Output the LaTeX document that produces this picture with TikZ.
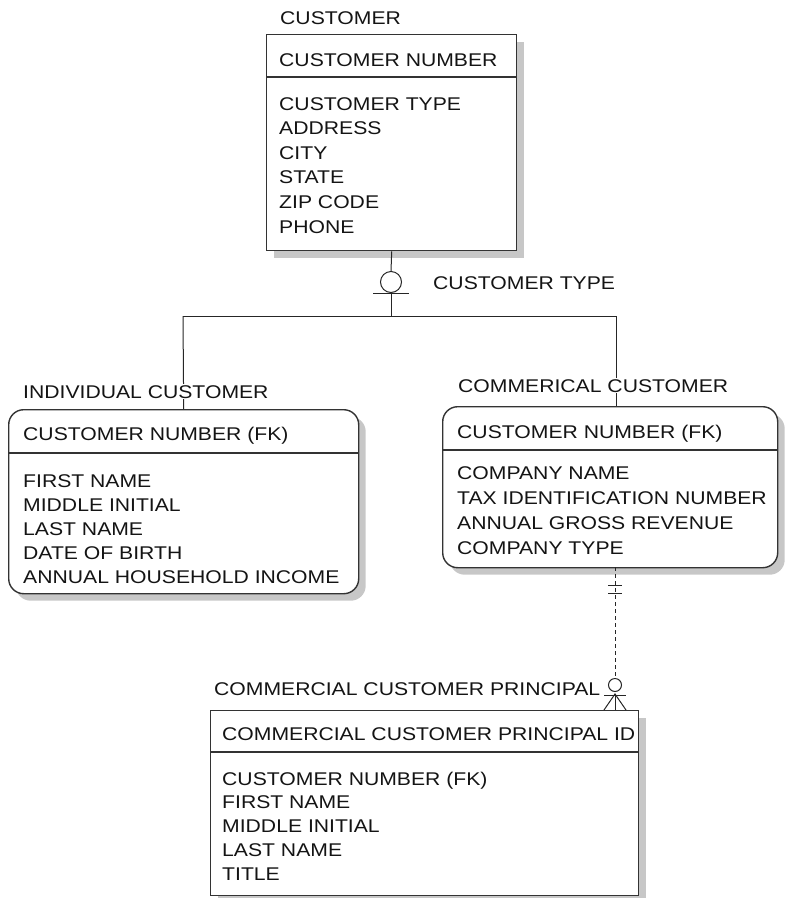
\documentclass[tikz,border=0pt]{standalone}
\usepackage{fontspec}
\setmainfont{Liberation Sans}[FakeStretch=1.15]
\usetikzlibrary{shadows}

\begin{document}
\begin{tikzpicture}[x=1pt, y=-1pt,
    every node/.style={font=\fontsize{18.4}{21}\selectfont, text=black!92, inner sep=0pt},
    entity/.style={draw=black!80, line width=1.4pt, fill=white, anchor=north west,
        drop shadow={shadow xshift=7pt, shadow yshift=-7pt, fill=black!22, opacity=1}},
    divider/.style={draw=black!80, line width=1.1pt},
    attr/.style={anchor=base west},
    entname/.style={anchor=base west, fill=white, inner sep=1pt},
    conn/.style={draw=black!85, line width=1pt},
    dashedconn/.style={conn, dash pattern=on 4pt off 3pt}]

    % Frame
    \useasboundingbox (0,0) rectangle (786,898);

    % Entity boxes
    \node[entity, minimum width=250, minimum height=216] (cust) at (266,34) {};
    \node[entity, rounded corners=15pt, minimum width=350, minimum height=184] (indiv) at (8,409) {};
    \node[entity, rounded corners=15pt, minimum width=335, minimum height=161] (comm) at (442,406) {};
    \node[entity, minimum width=428, minimum height=185] (princ) at (210,710) {};

    % Key dividers
    \draw[divider] (cust.west |- 0,77) -- (cust.east |- 0,77);
    \draw[divider] (indiv.west |- 0,453) -- (indiv.east |- 0,453);
    \draw[divider] (comm.west |- 0,450) -- (comm.east |- 0,450);
    \draw[divider] (princ.west |- 0,752) -- (princ.east |- 0,752);

    % Subtype connector
    \node[circle, conn, minimum size=21] (disc) at (391,282) {};
    \coordinate (hl) at (183,316);
    \coordinate (hr) at (616,316);
    \draw[conn] (cust.south) -- (disc.north);
    \draw[conn] (disc.south) -- (disc.south |- hl);
    \draw[conn] ([xshift=-18pt]disc.south) -- ([xshift=18pt]disc.south);
    \draw[conn] (hl) -- (hr);
    \draw[conn] (hl) -- (indiv.north);
    \draw[conn] (hr) -- (hr |- comm.north);
    \node[attr] (disctype) at (433,289) {CUSTOMER TYPE};

    % Relationship
    \coordinate (relt) at (615,567);
    \coordinate (relb) at (615,710);
    \node[circle, conn, minimum size=13] (opt) at (615,685) {};
    \draw[dashedconn] (relt) -- (opt.north);
    \foreach \y in {585,593}
        \draw[conn] (608,\y) -- (622,\y);
    \draw[conn] (604,695) -- (626,695);
    \draw[conn] (604,710) -- (615,694) -- (626,710);
    \draw[conn] (615,694) -- (relb);

    % Entity names
    \node[entname] (custname) at (279,24) {CUSTOMER};
    \node[entname] (indivname) at (22,398) {INDIVIDUAL CUSTOMER};
    \node[entname] (commname) at (457,392) {COMMERICAL CUSTOMER};
    \node[entname] (princname) at (213,695) {COMMERCIAL CUSTOMER PRINCIPAL};

    % Keys
    \node[attr] (custkey) at (279,66) {CUSTOMER NUMBER};
    \node[attr] (indivkey) at (23,440) {CUSTOMER NUMBER (FK)};
    \node[attr] (commkey) at (457,438) {CUSTOMER NUMBER (FK)};
    \node[attr] (princkey) at (222,740) {COMMERCIAL CUSTOMER PRINCIPAL ID};

    % Attributes
    \foreach \a [count=\i] in {CUSTOMER TYPE, ADDRESS, CITY, STATE, ZIP CODE, PHONE}
        \node[attr] (cust\i) at (279, {110+24.6*(\i-1)}) {\a};
    \foreach \a [count=\i] in {FIRST NAME, MIDDLE INITIAL, LAST NAME, DATE OF BIRTH, ANNUAL HOUSEHOLD INCOME}
        \node[attr] (indiv\i) at (23, {487+24*(\i-1)}) {\a};
    \foreach \a [count=\i] in {COMPANY NAME, TAX IDENTIFICATION NUMBER, ANNUAL GROSS REVENUE, COMPANY TYPE}
        \node[attr] (comm\i) at (457, {479+25*(\i-1)}) {\a};
    \foreach \a [count=\i] in {CUSTOMER NUMBER (FK), FIRST NAME, MIDDLE INITIAL, LAST NAME, TITLE}
        \node[attr] (princ\i) at (222, {785+23.8*(\i-1)}) {\a};
\end{tikzpicture}
\end{document}
